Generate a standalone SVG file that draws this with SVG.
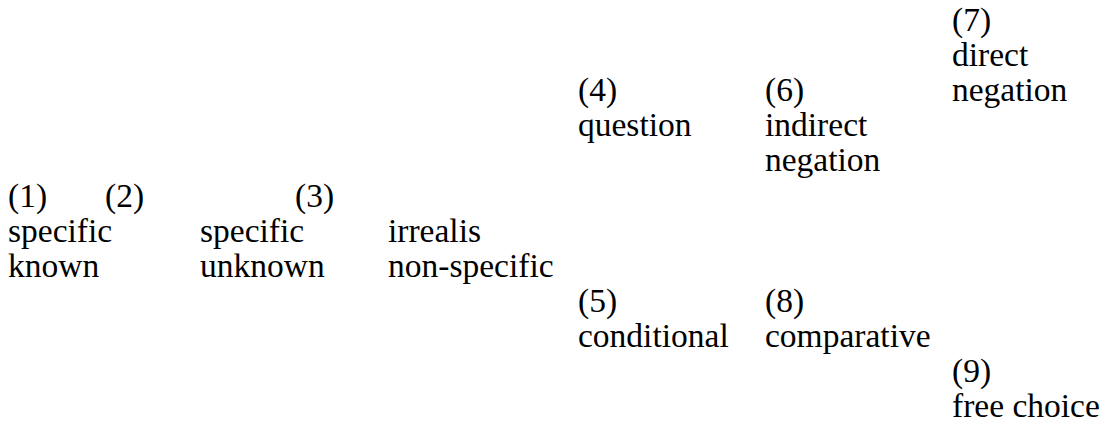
<svg xmlns="http://www.w3.org/2000/svg" width="1110" height="425" viewBox="0 0 1110 425">
<style>
text{font-family:"Liberation Serif","DejaVu Serif",serif;font-size:33.5px;fill:#000}
</style>
<rect width="1110" height="425" fill="#fff"/>
<g id="connectors"/>
<g id="n1"><text x="8" y="206.5">(1)</text></g>
<g id="n2"><text x="105" y="206.5">(2)</text></g>
<g id="specific-known"><text x="8" y="241.5">specific</text><text x="8" y="276.5">known</text></g>
<g id="n3"><text x="295" y="206.5">(3)</text></g>
<g id="specific-unknown"><text x="200" y="241.5">specific</text><text x="200" y="276.5">unknown</text></g>
<g id="irrealis"><text x="388" y="241.5">irrealis</text><text x="388" y="276.5">non-specific</text></g>
<g id="n4"><text x="578" y="101">(4)</text><text x="578" y="136">question</text></g>
<g id="n5"><text x="578" y="312">(5)</text><text x="578" y="347">conditional</text></g>
<g id="n6"><text x="765" y="101">(6)</text><text x="765" y="136">indirect</text><text x="765" y="171">negation</text></g>
<g id="n7"><text x="952" y="31">(7)</text><text x="952" y="66">direct</text><text x="952" y="101">negation</text></g>
<g id="n8"><text x="765" y="312">(8)</text><text x="765" y="347">comparative</text></g>
<g id="n9"><text x="952" y="382">(9)</text><text x="952" y="417">free choice</text></g>
</svg>
